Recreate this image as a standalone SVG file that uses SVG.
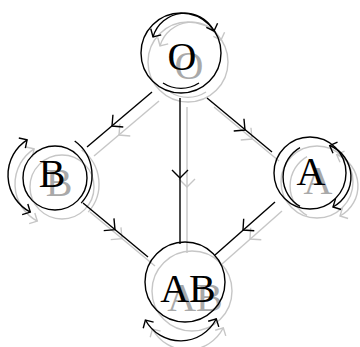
<svg xmlns="http://www.w3.org/2000/svg" width="360" height="347" viewBox="0 0 360 347" color="#000">
<style>
.ln{fill:none;stroke:currentColor;stroke-width:1.4}
.lb{font-family:"Liberation Serif","Times New Roman",serif;font-size:40px;fill:var(--tc,currentColor);text-anchor:middle}
</style>
<defs>
<path id="ah" class="ln" d="M-8,-8 L0,0 L-8,8"/>
<path id="lh" class="ln" d="M-6,-6 L0,0 L-6,6"/>
</defs>
<rect width="360" height="347" fill="#fff"/>
<use href="#diagram" transform="translate(7,9)" color="#c6c6c6" style="--tc:#a9a9a9"/>
<g id="diagram">
<g id="connectors">
<line class="ln" x1="152" y1="92" x2="87" y2="147"/>
<use href="#ah" transform="translate(112,126) rotate(139.8)"/>
<line class="ln" x1="207" y1="98" x2="272" y2="152"/>
<use href="#ah" transform="translate(245,130) rotate(39.7)"/>
<line class="ln" x1="180" y1="98" x2="180" y2="244"/>
<use href="#ah" transform="translate(180,178) rotate(90)"/>
<line class="ln" x1="83" y1="203" x2="148" y2="257"/>
<use href="#ah" transform="translate(115,229.6) rotate(39.7)"/>
<line class="ln" x1="275" y1="202" x2="215" y2="255"/>
<use href="#ah" transform="translate(243,230) rotate(138.5)"/>
</g>
<g id="node-O">
<circle class="ln" cx="181" cy="53" r="40"/>
<path class="ln" d="M153,37 A33,33 0 0,1 214,31"/>
<use href="#lh" transform="translate(153,37) rotate(120)"/>
<use href="#lh" transform="translate(214,31) rotate(70)"/>
<path class="ln" d="M163,83 A33,33 0 0,0 199,83"/>
<text class="lb" x="182" y="70">O</text>
</g>
<g id="node-B">
<circle class="ln" cx="55" cy="178" r="32"/>
<path class="ln" d="M27.1,139.8 A42,42 0 0,0 30.3,212.1"/>
<path class="ln" d="M74.7,141 A42,42 0 0,1 81.2,203.1"/>
<use href="#lh" transform="translate(27.1,139.8) rotate(-33)"/>
<use href="#lh" transform="translate(30.3,212.1) rotate(28)"/>
<text class="lb" x="52" y="187">B</text>
</g>
<g id="node-A">
<circle class="ln" cx="310" cy="173" r="36"/>
<path class="ln" d="M329.7,145.5 A34,34 0 0,1 333,207"/>
<path class="ln" d="M300,147.6 A34,34 0 0,0 300,206.4"/>
<use href="#lh" transform="translate(329.7,145.5) rotate(-158)"/>
<use href="#lh" transform="translate(333,207) rotate(152)"/>
<text class="lb" x="311" y="185">A</text>
</g>
<g id="node-AB">
<circle class="ln" cx="185" cy="282" r="40"/>
<path class="ln" d="M145.4,320 A40,40 0 0,0 216.3,318.8"/>
<use href="#lh" transform="translate(145.4,320) rotate(240)"/>
<use href="#lh" transform="translate(216.3,318.8) rotate(-62)"/>
<text class="lb" x="188" y="302">AB</text>
</g>
</g>
</svg>
